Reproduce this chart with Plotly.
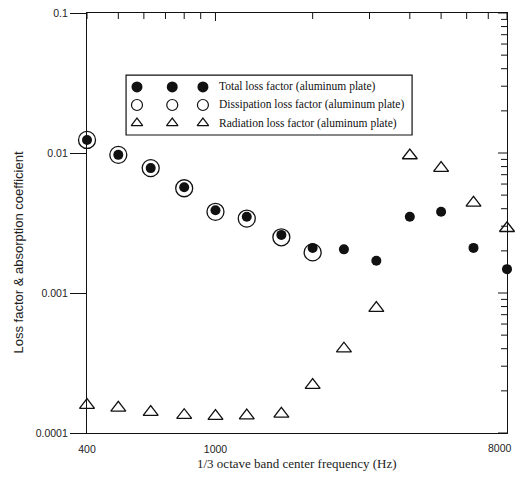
import math
import plotly.graph_objects as go

# ---------------- data ----------------
freqs = [400, 500, 630, 800, 1000, 1250, 1600, 2000, 2500, 3150, 4000, 5000, 6300, 8000]
total_loss = [0.0124, 0.0097, 0.0078, 0.0057, 0.0039, 0.0035, 0.0026, 0.0021,
              0.00205, 0.0017, 0.0035, 0.0038, 0.0021, 0.00148]
diss_freqs = [400, 500, 630, 800, 1000, 1250, 1600, 2000]
diss_loss = [0.0124, 0.0097, 0.0078, 0.0056, 0.0038, 0.0034, 0.0025, 0.00195]
rad_loss = [0.000158, 0.000151, 0.000141, 0.000134, 0.000132, 0.000133, 0.000137,
            0.00022, 0.00040, 0.00078, 0.0096, 0.0078, 0.0044, 0.0029]

x_tickvals = [400, 1000, 8000]
x_ticktext = ["400", "1000", ""]
x_minor = [400, 500, 600, 700, 800, 900, 2000, 3000, 4000, 5000, 6000, 7000, 8000]
y_tickvals = [0.0001, 0.001, 0.01, 0.1]
y_ticktext = ["0.0001", "0.001", "0.01", "0.1"]
y_minor = [k * 10.0 ** e for e in (-4, -3, -2) for k in range(2, 10)]

legend_names = ["Total loss factor (aluminum plate)",
                "Dissipation loss factor (aluminum plate)",
                "Radiation loss factor (aluminum plate)"]

X_RANGE = [2.60200, 3.90312]
Y_RANGE = [-4.00003, -0.99997]
PLOT_PX = 420.0  # plot area is 420 x 420 px

# ---------------- figure ----------------
fig = go.Figure()

fig.add_trace(go.Scatter(
    x=diss_freqs, y=diss_loss, mode="markers", cliponaxis=False, showlegend=False,
    marker=dict(symbol="circle-open", size=17, color="#111", line=dict(width=1.3, color="#111"))))
fig.add_trace(go.Scatter(
    x=freqs, y=total_loss, mode="markers", cliponaxis=False, showlegend=False,
    marker=dict(symbol="circle", size=10, color="#111", line=dict(width=0))))
fig.add_trace(go.Scatter(
    x=freqs, y=rad_loss, mode="markers", cliponaxis=False, showlegend=False,
    marker=dict(symbol="triangle-up-open", size=13, color="#111", line=dict(width=1.3, color="#111"))))

# custom legend (three symbols per row, as in the original)
leg_sx = [0.119, 0.203, 0.276]
leg_sy = [0.824, 0.781, 0.738]
leg_styles = [
    dict(symbol="circle", size=11, color="#111", line=dict(width=0)),
    dict(symbol="circle-open", size=11, color="#111", line=dict(width=1.2, color="#111")),
    dict(symbol="triangle-up-open", size=10, color="#111", line=dict(width=1.2, color="#111")),
]
for i in range(3):
    fig.add_trace(go.Scatter(
        x=leg_sx, y=[leg_sy[i]] * 3, mode="markers", xaxis="x3", yaxis="y3",
        showlegend=False, hoverinfo="skip", cliponaxis=False, marker=leg_styles[i]))
    fig.add_annotation(x=0.31, y=leg_sy[i], xref="paper", yref="paper",
                       text=legend_names[i], showarrow=False, xanchor="left", yanchor="middle",
                       font=dict(family="Liberation Serif", size=11.5, color="#111"))

fig.add_shape(type="rect", xref="paper", yref="paper", x0=0.093, x1=0.774, y0=0.7095, y1=0.852,
              line=dict(color="#111", width=1.2), fillcolor="rgba(0,0,0,0)")


# ---- tick marks drawn as line markers on the unit overlay axes ----
def xfrac(v):
    return (math.log10(v) - X_RANGE[0]) / (X_RANGE[1] - X_RANGE[0])


def yfrac(v):
    return (math.log10(v) - Y_RANGE[0]) / (Y_RANGE[1] - Y_RANGE[0])


def tick_trace(xs, ys, symbol, length):
    fig.add_trace(go.Scatter(
        x=xs, y=ys, mode="markers", xaxis="x3", yaxis="y3", showlegend=False,
        hoverinfo="skip", cliponaxis=False,
        marker=dict(symbol=symbol, size=length / 1.4, color="#111",
                    line=dict(width=1, color="#111"))))


def xticks(vals, top, length):
    off = length / 2.0 / PLOT_PX
    yv = 1 - off if top else -off
    tick_trace([xfrac(v) for v in vals], [yv] * len(vals), "line-ns", length)


def yticks(vals, right, length):
    off = length / 2.0 / PLOT_PX
    xv = 1 - off if right else -off
    tick_trace([xv] * len(vals), [yfrac(v) for v in vals], "line-ew", length)


xticks(x_minor, False, 5)
xticks([1000], False, 13)
xticks(x_minor, True, 6)
xticks([1000], True, 8)
yticks(y_minor, False, 8)
yticks(y_minor, True, 6)
yticks(y_tickvals, True, 9)

tickfont = dict(family="Liberation Sans", size=10.5, color="#222")
common = dict(showgrid=False, zeroline=False, automargin=False)

fig.update_layout(
    width=515, height=484,
    margin=dict(l=87, r=8, t=13, b=51, autoexpand=False),
    paper_bgcolor="white", plot_bgcolor="white",
    showlegend=False,
    xaxis=dict(type="log", range=X_RANGE, tickmode="array", tickvals=x_tickvals,
               ticktext=x_ticktext, ticks="outside", ticklen=6, tickcolor="rgba(0,0,0,0)",
               showline=True, mirror=True, linecolor="#111", linewidth=1.2,
               tickfont=tickfont, **common),
    yaxis=dict(type="log", range=Y_RANGE, tickmode="array", tickvals=y_tickvals,
               ticktext=y_ticktext, ticks="outside", ticklen=16, tickwidth=1,
               tickcolor="#111", showline=True, mirror=True, linecolor="#111",
               linewidth=1.2, tickfont=tickfont, **common),
    xaxis3=dict(range=[0, 1], overlaying="x", visible=False, anchor="y3"),
    yaxis3=dict(range=[0, 1], overlaying="y", visible=False, anchor="x3"),
)

# last x tick label, kept inside the page
fig.add_annotation(x=(514 - 87) / PLOT_PX, y=-15 / PLOT_PX, xref="paper", yref="paper",
                   text="8000", showarrow=False, xanchor="right", yanchor="middle",
                   font=tickfont)

fig.add_annotation(x=-0.164, y=0.43, xref="paper", yref="paper", textangle=-90,
                   text="Loss factor & absorption coefficient", showarrow=False,
                   xanchor="center", yanchor="middle",
                   font=dict(family="Liberation Sans", size=13, color="#222"))
fig.add_annotation(x=0.5, y=-0.072, xref="paper", yref="paper",
                   text="1/3 octave band center frequency (Hz)", showarrow=False,
                   xanchor="center", yanchor="middle",
                   font=dict(family="Liberation Serif", size=13, color="#222"))

fig.write_html("out.html")
